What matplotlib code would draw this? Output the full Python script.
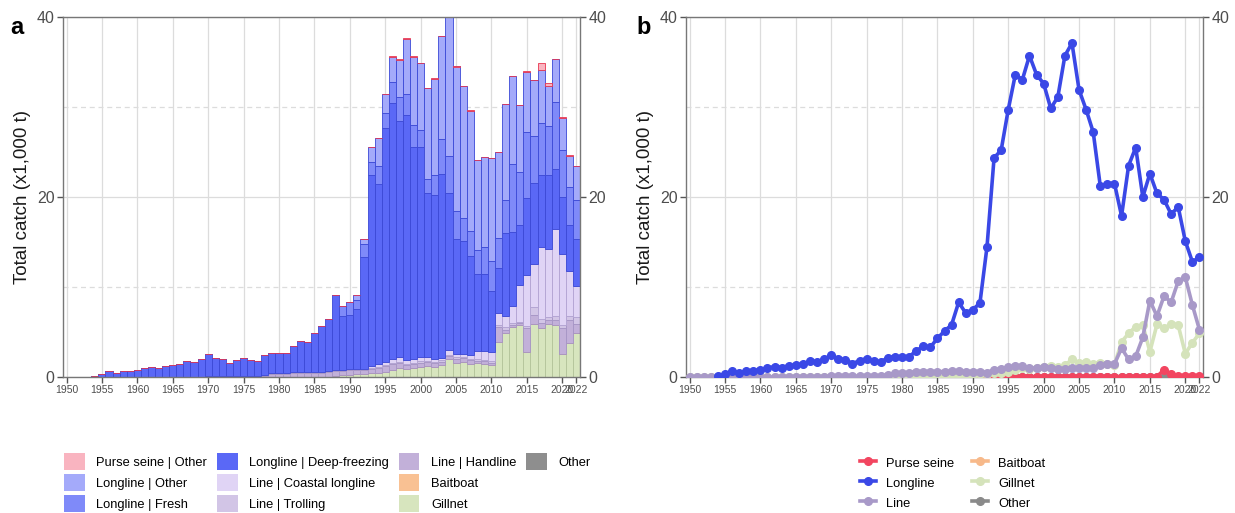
import numpy as np
import matplotlib
matplotlib.use("Agg")
import matplotlib.pyplot as plt
from matplotlib.patches import Patch, Rectangle
from matplotlib.lines import Line2D

plt.rcParams['font.family'] = ['Liberation Sans', 'DejaVu Sans']

years = np.arange(1950, 2023)

# catch by gear (x1,000 t), 1950-2022
ll_deep = [0, 0, 0, 0, 0.1, 0.3, 0.65, 0.45, 0.65, 0.7,
           0.8, 1.0, 1.15, 1.05, 1.25, 1.3, 1.4, 1.75, 1.7, 1.95,
           2.45, 2.0, 1.9, 1.5, 1.8, 2.05, 1.75, 1.65, 2.15, 2.25,
           2.2, 2.25, 2.9, 3.4, 3.3, 4.3, 5.1, 5.8, 8.3, 6.0,
           6.0, 6.7, 12.45, 21.2, 20.1, 26.0, 28.5, 26.2, 27.2, 23.6,
           23.3, 18.25, 18.2, 20.45, 17.5, 12.7, 12.5, 11.0, 8.6, 8.5,
           6.8, 5.0, 9.2, 8.2, 6.7, 8.6, 9.0, 8.1, 8.3, 6.7,
           6.3, 5.1, 5.2]
ll_fresh = [0] * 39 + [1.1,
            1.5, 1.0, 1.45, 1.5, 2.0, 1.6, 2.3, 2.7, 2.3, 2.4,
            1.9, 1.5, 2.2, 3.85, 4.1, 3.1, 2.6, 2.8, 2.6, 3.0,
            3.3, 3.3, 3.7, 7.6, 5.9, 7.3, 5.2, 5.7, 5.4, 7.5,
            5.2, 4.2, 4.4]
ll_other = [0] * 41 + [0.5, 0.55, 1.65, 3.1, 2.1, 2.8, 4.15, 6.2, 7.6,
            7.4, 10.1, 10.7, 11.4, 15.5, 16.1, 14.6, 13.4, 10.0, 10.0,
            11.4, 9.6, 10.6, 9.7, 7.4, 6.7, 6.2, 5.9, 4.4, 4.7,
            3.6, 3.5, 3.7]
ps_other = [0] * 45 + [0.05] * 22 + [0.8, 0.35, 0.08, 0.08, 0.08, 0.08]
line_coastal = [0] * 43 + [0.2, 0.3, 0.35, 0.45, 0.5, 0.4, 0.4,
                0.5, 0.45, 0.35, 0.3, 0.55, 0.4, 0.35, 0.4, 0.95, 1.0,
                1.05, 1.3, 1.2, 1.9, 4.1, 5.6, 4.85, 8.0, 7.5, 9.6,
                7.9, 5.0, 3.4]
line_trolling = [0] * 28 + [0.1] * 15 + [0.15] * 18 + [0.2, 0.4, 0.25, 0.15, 0.2, 0.9, 0.45, 0.4, 0.45,
                 0.3, 0.45, 0.8]
line_handline = [0] * 20 + [0.1] * 8 + [0.15, 0.3,
                 0.35, 0.35, 0.5, 0.5, 0.5, 0.5, 0.5, 0.55, 0.55, 0.5,
                 0.5, 0.5, 0.4, 0.45, 0.45, 0.6, 0.6, 0.55, 0.45, 0.45,
                 0.45, 0.45, 0.4, 0.4, 0.35, 0.45, 0.45, 0.4, 0.25, 0.25,
                 0.25, 1.7, 0.35, 0.15, 0.15, 2.7, 1.0, 0.55, 0.4, 0.6,
                 2.9, 2.55, 1.05]
baitboat = [0] * 73
gillnet = [0] * 37 + [0.05, 0.15, 0.2,
           0.25, 0.3, 0.35, 0.4, 0.5, 0.6, 0.8, 1.0, 0.9, 1.0,
           1.15, 1.2, 1.15, 1.3, 1.95, 1.6, 1.65, 1.45, 1.55, 1.5,
           1.35, 3.9, 4.85, 5.6, 5.8, 2.8, 5.85, 5.4, 5.9, 5.75,
           2.6, 3.8, 4.85]
other = [0] * 73

# first year each gear group is reported (panel b)
first_year = {"Other": 1978, "Baitboat": 2023, "Purse seine": 1990,
              "Gillnet": 1950, "Line": 1950, "Longline": 1954}

# stacked categories, bottom to top
stack = [
    ("Other", other, "#8E8E8E", "#6E6E6E"),
    ("Gillnet", gillnet, "#D7E5BE", "#B3C39A"),
    ("Baitboat", baitboat, "#F9C193", "#E89E66"),
    ("Line | Handline", line_handline, "#C2B0D9", "#A594C4"),
    ("Line | Trolling", line_trolling, "#D2C5E6", "#A594C4"),
    ("Line | Coastal longline", line_coastal, "#E0D4F5", "#B2A3D2"),
    ("Longline | Deep-freezing", ll_deep, "#5A68F6", "#3A48D6"),
    ("Longline | Fresh", ll_fresh, "#7F8AF9", "#3A48D6"),
    ("Longline | Other", ll_other, "#A4AAFA", "#3A48D6"),
    ("Purse seine | Other", ps_other, "#F9B4C0", "#E8354F"),
]

# gear totals for panel b
longline = np.array(ll_deep) + np.array(ll_fresh) + np.array(ll_other)
line = np.array(line_handline) + np.array(line_trolling) + np.array(line_coastal)
gears = [
    ("Other", np.array(other, float), "#8A8A8A"),
    ("Baitboat", np.array(baitboat, float), "#F7B98A"),
    ("Purse seine", np.array(ps_other, float), "#F24560"),
    ("Gillnet", np.array(gillnet, float), "#D5E3BB"),
    ("Line", line, "#A899C8"),
    ("Longline", longline, "#3A48E6"),
]

xticks = list(range(1950, 2021, 5)) + [2022]
grey = "#4D4D4D"

fig = plt.figure(figsize=(12.35, 5.13), dpi=100)
ax1 = fig.add_axes([63 / 1235, 136 / 513, 517 / 1235, 360 / 513])
ax2 = fig.add_axes([686 / 1235, 136 / 513, 517 / 1235, 360 / 513])


def style(ax):
    ax.set_xlim(1949.5, 2022.5)
    ax.set_ylim(0, 40)
    ax.set_xticks(xticks)
    ax.set_xticklabels([str(y) for y in xticks], fontsize=7.5, color=grey)
    ax.set_yticks([0, 20, 40])
    ax.set_yticklabels(["0", "20", "40"], fontsize=11.5, color=grey)
    ax.set_yticks([10, 30], minor=True)
    ax.tick_params(axis='y', which='minor', length=0)
    ax.tick_params(axis='both', which='major', color="#555555", length=4, width=1, pad=2)
    ax.tick_params(axis='y', right=True, labelright=True)
    ax.grid(True, which='major', color="#DCDCDC", lw=0.9)
    ax.grid(True, which='minor', axis='y', color="#DCDCDC", lw=0.9, ls=(0, (4, 3)))
    ax.set_axisbelow(True)
    for s in ax.spines.values():
        s.set_color("#777777")
        s.set_linewidth(1.0)
    ax.set_ylabel("Total catch (x1,000 t)", fontsize=13.5, color="#1A1A1A", labelpad=4)


# panel a: stacked bars
bottom = np.zeros(len(years))
for name, vals, fc, ec in stack:
    vals = np.array(vals, float)
    ax1.bar(years, vals, width=1.0, bottom=bottom, color=fc, edgecolor=ec, linewidth=0.6, zorder=2)
    bottom += vals
style(ax1)

# panel b: lines
for name, vals, c in gears:
    keep = years >= first_year[name]
    ax2.plot(years[keep], vals[keep], color=c, lw=2.6, marker='o', ms=5.5, zorder=3)
style(ax2)

fig.text(10 / 1235, 1 - 28 / 513, "a", fontsize=17, fontweight='bold', va='center')
fig.text(636 / 1235, 1 - 28 / 513, "b", fontsize=17, fontweight='bold', va='center')

# legend a
leg_order = ["Purse seine | Other", "Longline | Other", "Longline | Fresh",
             "Longline | Deep-freezing", "Line | Coastal longline", "Line | Trolling",
             "Line | Handline", "Baitboat", "Gillnet", "Other"]
lookup = {n: fc for n, v, fc, ec in stack}
handles = [Patch(facecolor=lookup[n], edgecolor='none') for n in leg_order]
labels = list(leg_order)
handles += [Rectangle((0, 0), 1, 1, fill=False, edgecolor='none')] * 2
labels += ["", ""]
fig.legend(handles, labels, ncol=4, loc='upper left', bbox_to_anchor=(59 / 1235, 1 - 448 / 513),
           frameon=False, fontsize=9.3, handlelength=1.6, handleheight=1.65,
           labelspacing=0.3, columnspacing=0.75, handletextpad=0.9, borderaxespad=0)

# legend b
lorder = ["Purse seine", "Longline", "Line", "Baitboat", "Gillnet", "Other"]
gc = {n: c for n, v, c in gears}
h2 = [Line2D([], [], color=gc[n], lw=2.6, marker='o', ms=5.5) for n in lorder]
fig.legend(h2, lorder, ncol=2, loc='upper left', bbox_to_anchor=(855 / 1235, 1 - 450 / 513),
           frameon=False, fontsize=9.3, handlelength=1.2, handleheight=1.5,
           labelspacing=0.33, columnspacing=1.4, handletextpad=0.8, borderaxespad=0)

fig.savefig("out.png", dpi=100)
